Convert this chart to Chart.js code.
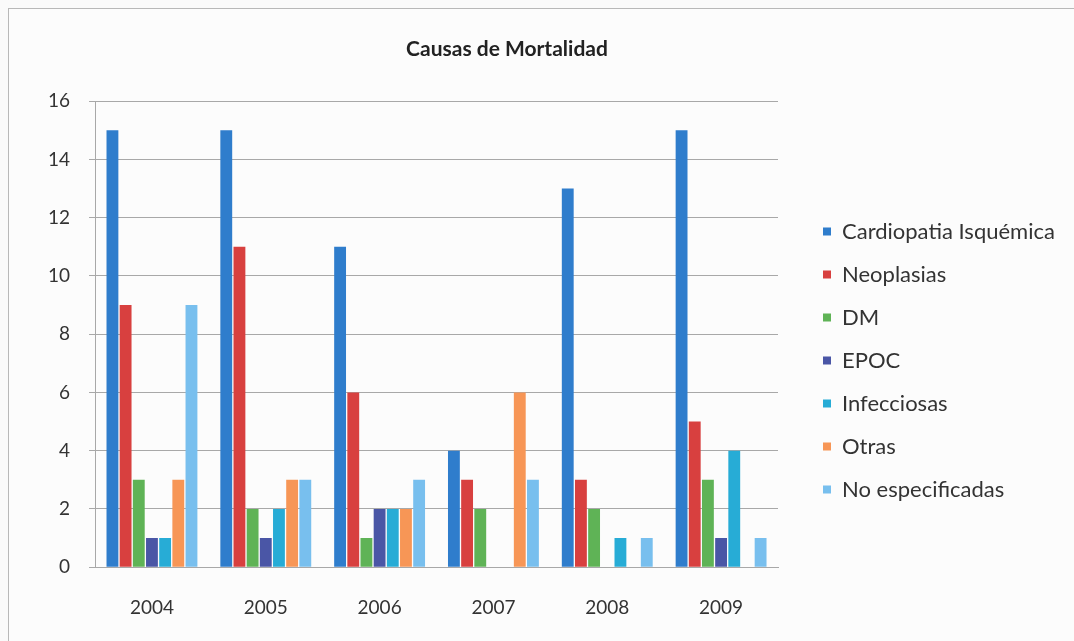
<!DOCTYPE html>
<html>
<head>
<meta charset="utf-8">
<script src="https://cdn.jsdelivr.net/npm/chart.js@4"></script>
<style>
    body { margin: 0; background: #fafafa; overflow: hidden; }
    #wrap { position: absolute; left: 8px; top: 8px; width: 1070px; height: 640px; border: 1px solid #b8b8b8; background: #fcfcfc; }
</style>
</head>
<body>
<div id="wrap"><canvas id="chart"></canvas></div>
<script>
// Causas de Mortalidad, 2004-2009
const years = ['2004', '2005', '2006', '2007', '2008', '2009'];
const causes = ['Cardiopatia Isquémica', 'Neoplasias', 'DM', 'EPOC', 'Infecciosas', 'Otras', 'No especificadas'];
const cardiopatia = [15, 15, 11, 4, 13, 15];
const neoplasias = [9, 11, 6, 3, 3, 5];
const dm = [3, 2, 1, 2, 2, 3];
const epoc = [1, 1, 2, 0, 0, 1];
const infecciosas = [1, 2, 2, 0, 1, 4];
const otras = [3, 3, 2, 6, 0, 0];
const noEspecificadas = [9, 3, 3, 3, 1, 1];
const yTicks = [0, 2, 4, 6, 8, 10, 12, 14, 16];

const seriesData = [cardiopatia, neoplasias, dm, epoc, infecciosas, otras, noEspecificadas];
const colors = ['#2f7dcc', '#d8403f', '#5fb356', '#4a56a6', '#27acd6', '#f79656', '#78bfee'];

// legend: fixed width on the right, nudged to sit where the original has it;
// title centred a bit left of the canvas middle like the original
const placeBoxes = {
    id: 'placeBoxes',
    beforeInit(chart) {
        const fit = chart.legend.fit;
        chart.legend.fit = function () {
            fit.call(this);
            this.width = 301;
        };
    },
    afterLayout(chart) {
        const lg = chart.legend;
        lg.left += 24; lg.right += 24;
        lg.top += 33; lg.bottom += 33;
        chart.titleBlock.right -= 94;
    },
};

new Chart(document.getElementById('chart'), {
    type: 'bar',
    data: {
        labels: years,
        datasets: causes.map((c, i) => ({
            label: c,
            data: seriesData[i],
            backgroundColor: colors[i],
            borderWidth: 0,
            categoryPercentage: 0.81,
            barPercentage: 0.9,
        })),
    },
    options: {
        responsive: true, maintainAspectRatio: false, animation: false,
        layout: { padding: { left: 20, right: 0, top: 6, bottom: 9 } },
        plugins: {
            title: {
                display: true, text: 'Causas de Mortalidad', color: '#222',
                font: { family: 'Lato', size: 21, weight: 'bold' },
                padding: { top: 22, bottom: 39 },
            },
            legend: {
                position: 'right',
                labels: {
                    boxWidth: 8, boxHeight: 8, padding: 21, color: '#333',
                    font: { family: 'Lato', size: 22 },
                },
            },
            tooltip: { enabled: false },
        },
        scales: {
            y: {
                min: 0, max: 16,
                afterBuildTicks: (axis) => { axis.ticks = yTicks.map(v => ({ value: v })); },
                grid: { color: '#a8a8a8', lineWidth: 1, tickLength: 6, drawTicks: true },
                border: { color: '#a8a8a8' },
                ticks: { color: '#333', padding: 19, font: { family: 'Lato', size: 19 } },
            },
            x: {
                grid: { display: false },
                border: { color: '#a8a8a8' },
                ticks: { color: '#333', padding: 21, font: { family: 'Lato', size: 19 } },
            },
        },
    },
    plugins: [placeBoxes],
});
</script>
</body>
</html>
